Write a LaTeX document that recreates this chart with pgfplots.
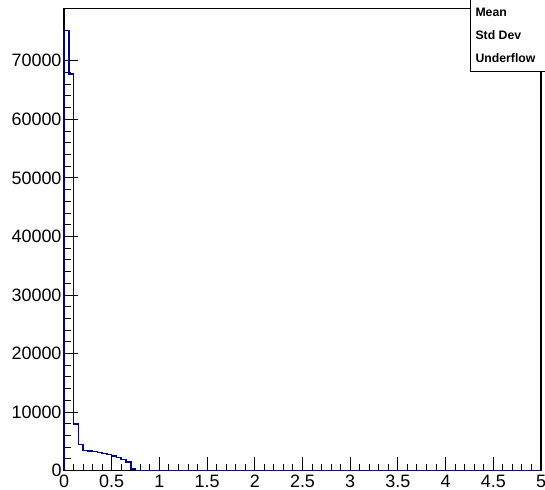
\documentclass[border=0pt]{standalone}
\usepackage{pgfplots}
\pgfplotsset{compat=1.18}
\usepackage{fontspec}
\setmainfont{Liberation Sans}
\definecolor{histblue}{rgb}{0,0,0.6}

\begin{document}
\begin{tikzpicture}[x=1bp,y=1bp]
\useasboundingbox (0,0) rectangle (545,490);
\begin{axis}[
  at={(64bp,19.3bp)}, anchor=south west,
  scale only axis, width=477bp, height=462.4bp,
  xmin=0, xmax=5, ymin=0, ymax=78960,
  clip=false,
  axis line style={line width=1.3pt, black},
  xtick={0,0.5,...,5},
  ytick={0,10000,...,70000},
  minor x tick num=4, minor y tick num=4,
  xtick pos=bottom, ytick pos=left,
  tick align=inside,
  every tick/.style={black, line width=1pt},
  major tick length=14bp, minor tick length=7bp,
  scaled y ticks=false,
  /pgf/number format/1000 sep={},
  /pgf/number format/assume math mode=true,
  every tick label/.append style={font=\fontsize{18}{21}\selectfont},
  xticklabel style={yshift=-0.5bp},
  yticklabel style={xshift=1bp},
]
\addplot[const plot, histblue, line width=1.5pt] coordinates {
  (0,0) (0,75200) (0.05,67700) (0.1,7970) (0.15,4500) (0.2,3420)
  (0.25,3350) (0.3,3250) (0.35,3100) (0.4,2950) (0.45,2800)
  (0.5,2550) (0.55,2250) (0.6,1900) (0.65,1500) (0.7,250)
  (0.75,0) (5,0)
};
\end{axis}
% statistics box
\draw[fill=white, line width=1pt] (470,490-72) rectangle (560,495);
\begin{scope}[font=\fontsize{12.3}{14}\selectfont\bfseries]
\node[anchor=west] at (472,490-12) {Mean};
\node[anchor=west] at (472,490-35) {Std Dev};
\node[anchor=west] at (472,490-58) {Underflow};
\end{scope}
\end{tikzpicture}
\end{document}
